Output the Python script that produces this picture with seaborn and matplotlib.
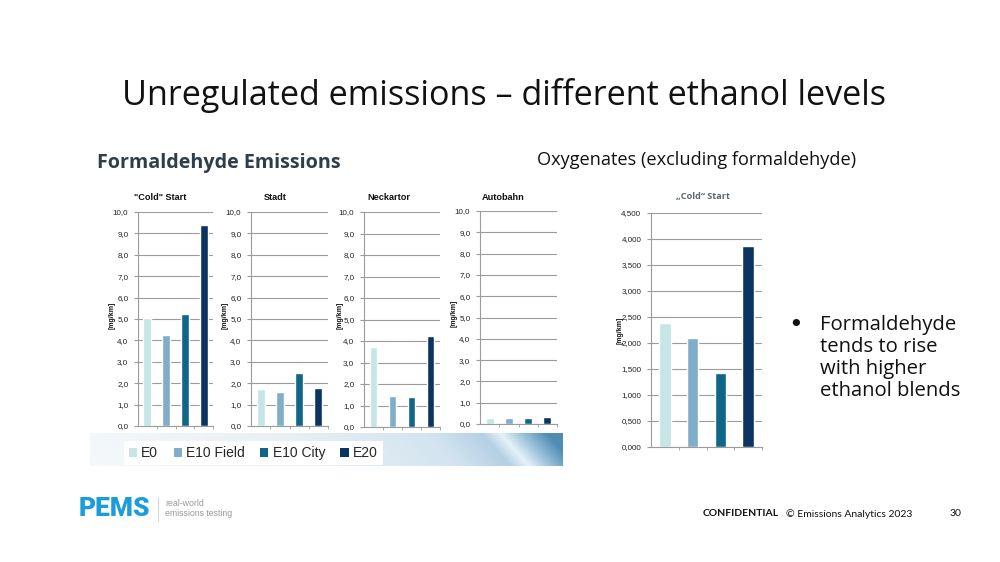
import numpy as np
import pandas as pd
import matplotlib
matplotlib.use("Agg")
import matplotlib.pyplot as plt
from matplotlib.patches import Patch
from matplotlib.lines import Line2D
from matplotlib.colors import LinearSegmentedColormap
import seaborn as sns

# ---------------- data ----------------
fuels = ["E0", "E10 Field", "E10 City", "E20"]
palette = ["#c5e5e7", "#80adc9", "#0f6686", "#0c3463"]

panel_titles = ['"Cold" Start', "Stadt", "Neckartor", "Autobahn"]
cold_start = [5.05, 4.25, 5.25, 9.40]
stadt = [1.72, 1.57, 2.47, 1.77]
neckartor = [3.73, 1.43, 1.40, 4.25]
autobahn = [0.30, 0.30, 0.28, 0.35]
formaldehyde_ticks = [0, 1, 2, 3, 4, 5, 6, 7, 8, 9, 10]

oxy_title = "\u201eCold\u201c Start"
oxygenates_cold = [2.38, 2.10, 1.42, 3.86]
oxy_ticks = [0, 0.5, 1.0, 1.5, 2.0, 2.5, 3.0, 3.5, 4.0, 4.5]

title = "Unregulated emissions \u2013 different ethanol levels"
left_heading = "Formaldehyde Emissions"
right_heading = "Oxygenates (excluding formaldehyde)"
bullet_lines = ["Formaldehyde", "tends to rise", "with higher", "ethanol blends"]

# ---------------- figure ----------------
sns.set_theme(style="white")
plt.rcParams["font.family"] = ["Open Sans", "DejaVu Sans"]

W, H = 1000, 562
fig = plt.figure(figsize=(10, 5.62), dpi=100)
fig.patch.set_facecolor("white")


def fx(px):
    return px / W


def fy(py):
    return 1 - py / H


# gradient banner behind the left charts
bax = fig.add_axes([fx(90), fy(466), fx(563 - 90), (466 - 433) / H], zorder=0)
xs = np.linspace(0, 1, 400)
ys = np.linspace(0, 1, 40)
XX, YY = np.meshgrid(xs, ys)
gimg = np.clip(XX - 0.06 * (YY - 0.5), 0, 1)
cmap_b = LinearSegmentedColormap.from_list(
    "b", [(0, "#f4f8fb"), (0.45, "#e8f0f6"), (0.75, "#d3e4f0"), (0.86, "#b4d0e4"),
          (0.9, "#e6f2f9"), (0.94, "#a3c8df"), (1, "#4f8cb5")])
bax.imshow(gimg, aspect="auto", cmap=cmap_b, extent=[0, 1, 0, 1], origin="upper")
bax.set_axis_off()

grid_col = "#9c9c9c"


def style_axis(ax, ticks, fmt):
    ax.set_facecolor("none")
    ax.set_xlim(-0.5, 3.5)
    ax.set_ylim(ticks[0], ticks[-1])
    ax.set_yticks(ticks)
    ax.set_yticklabels([fmt(t) for t in ticks], fontsize=5.8, family="Liberation Sans", color="#222222")
    ax.yaxis.grid(True, color=grid_col, linewidth=0.8)
    ax.set_axisbelow(True)
    ax.set_xticks([0.5, 1.5, 2.5, 3.5])
    ax.set_xticklabels([])
    ax.tick_params(axis="x", direction="out", length=2.5, width=0.6, colors=grid_col, bottom=True)
    ax.tick_params(axis="y", direction="out", length=3, width=0.8, colors=grid_col,
                   labelcolor="#222222", pad=4, left=True)
    for s in ["top", "right"]:
        ax.spines[s].set_visible(False)
    for s in ["left", "bottom"]:
        ax.spines[s].set_color(grid_col)
        ax.spines[s].set_linewidth(0.8)
    ax.set_xlabel("")
    ax.set_ylabel("")


def draw_bars(ax, vals):
    df = pd.DataFrame({"fuel": fuels, "value": vals})
    sns.barplot(data=df, x="fuel", y="value", hue="fuel", palette=palette,
                order=fuels, hue_order=fuels, width=0.42, legend=False, ax=ax,
                saturation=1, dodge=False)


# small formaldehyde panels: (left, right, top, bottom, title_x, ylabel_x)
panels = [
    (138, 213, 212, 426, 160, 112),
    (251, 328, 212, 426, 275, 225),
    (364, 440, 212, 427, 389, 340),
    (480, 557, 211, 424, 503, 454),
]
series = [cold_start, stadt, neckartor, autobahn]
for (l, r, t, b, tx, yx), vals, ttl in zip(panels, series, panel_titles):
    ax = fig.add_axes([fx(l), fy(b), fx(r - l), (b - t) / H], zorder=2)
    draw_bars(ax, vals)
    style_axis(ax, formaldehyde_ticks, lambda v: f"{v:.1f}".replace(".", ","))
    fig.text(fx(tx), fy(197), ttl, ha="center", va="center", fontsize=6.6,
             fontweight="bold", family="Liberation Sans", color="#111111")
    fig.text(fx(yx), fy((t + b) / 2 - 4), "[mg/km]", ha="center", va="center", rotation=90,
             fontsize=5, fontweight="bold", family="Liberation Sans", color="#111111")

# oxygenates panel
l, r, t, b = 651, 762, 213, 447
ax5 = fig.add_axes([fx(l), fy(b), fx(r - l), (b - t) / H], zorder=2)
draw_bars(ax5, oxygenates_cold)
style_axis(ax5, oxy_ticks, lambda v: f"{v:.3f}".replace(".", ","))
fig.text(fx(703), fy(197), oxy_title, ha="center", va="center", fontsize=6.6,
         fontweight="bold", color="#5b6770")
fig.text(fx(620), fy(330), "[mg/km]", ha="center", va="center", rotation=90,
         fontsize=5, fontweight="bold", family="Liberation Sans", color="#111111")

# legend
handles = [Patch(facecolor=c, edgecolor="none") for c in palette]
leg = fig.legend(handles, fuels, loc="center left", bbox_to_anchor=(fx(124), fy(453)),
                 ncol=4, frameon=True, fancybox=False, framealpha=1,
                 prop={"family": "Liberation Sans", "size": 10},
                 handlelength=0.6, handleheight=0.6, handletextpad=0.3,
                 columnspacing=1.1, borderpad=0.35, borderaxespad=0)
leg.get_frame().set_facecolor("white")
leg.get_frame().set_edgecolor("none")
leg.set_zorder(3)

# headings
fig.text(0.504, fy(95), title, ha="center", va="center", fontsize=24.6, color="#111111")
fig.text(fx(97), fy(163), left_heading, ha="left", va="center", fontsize=14.2,
         fontweight="bold", color="#2f3e49")
fig.text(fx(537), fy(160), right_heading, ha="left", va="center", fontsize=13.1, color="#111111")

# bullet
fig.text(fx(788), fy(325), "\u2022", ha="left", va="center", fontsize=18, family="DejaVu Sans",
         color="#111111")
for i, line in enumerate(bullet_lines):
    fig.text(fx(820), fy(325 + 22 * i), line, ha="left", va="center", fontsize=14.6, color="#111111")

# logo and footer
fig.text(fx(79), fy(509), "PEMS", ha="left", va="center", fontsize=19, fontweight="heavy",
         family="Roboto", color="#1b9dd9")
fig.add_artist(Line2D([fx(158), fx(158)], [fy(497), fy(521)], color="#cccccc", linewidth=0.6))
fig.text(fx(165), fy(504), "real-world", ha="left", va="center", fontsize=6.3, color="#9a9a9a",
         family="Liberation Sans")
fig.text(fx(165), fy(514), "emissions testing", ha="left", va="center", fontsize=6.3, color="#9a9a9a",
         family="Liberation Sans")

fig.text(fx(703), fy(514), "CONFIDENTIAL", ha="left", va="center", fontsize=7.5,
         fontweight="bold", family="Lato", color="#111111")
fig.text(fx(786), fy(514), "\u00a9 Emissions Analytics 2023", ha="left", va="center",
         fontsize=7.5, family="Lato", color="#111111")
fig.text(fx(950), fy(514), "30", ha="left", va="center", fontsize=7.5, family="Lato", color="#111111")

fig.savefig("out.png", dpi=100, facecolor="white")
